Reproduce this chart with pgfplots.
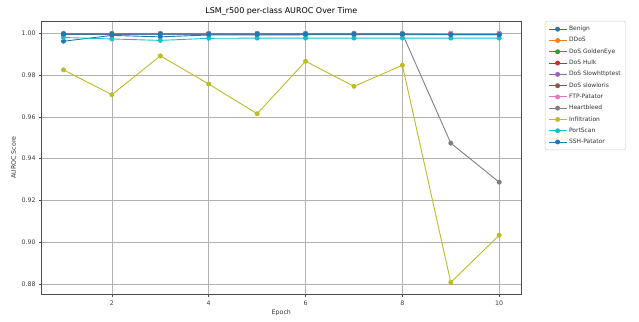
\documentclass[border=0pt]{standalone}
\usepackage{pgfplots}
\pgfplotsset{compat=1.18}
\usepackage{fontspec}
\setmainfont{DejaVu Sans}
\definecolor{tb}{HTML}{1F77B4}
\definecolor{to}{HTML}{FF7F0E}
\definecolor{tg}{HTML}{2CA02C}
\definecolor{tr}{HTML}{D62728}
\definecolor{tp}{HTML}{9467BD}
\definecolor{tbr}{HTML}{8C564B}
\definecolor{tpk}{HTML}{E377C2}
\definecolor{tgr}{HTML}{7F7F7F}
\definecolor{tol}{HTML}{BCBD22}
\definecolor{tc}{HTML}{17BECF}
\begin{document}
\begin{tikzpicture}
\useasboundingbox (0bp,0bp) rectangle (639bp,322bp);
\begin{axis}[
  at={(41.7bp,27.5bp)}, anchor=south west,
  width=479.3bp, height=273.5bp, scale only axis,
  xmin=0.55, xmax=10.45, ymin=0.8749, ymax=1.0059,
  xtick={2,4,6,8,10},
  ytick={0.88,0.90,0.92,0.94,0.96,0.98,1.00},
  xtick pos=left, ytick pos=left,
  yticklabel style={/pgf/number format/.cd, fixed, fixed zerofill, precision=2},
  /pgf/number format/assume math mode=true,
  ticklabel style={font=\fontsize{6.3}{7.5}\selectfont, text=black!75},
  tick style={black!70, line width=0.5pt},
  tick align=outside, major tick length=2.5bp,
  axis line style={black!70, line width=0.6pt},
  grid=major, major grid style={black!30, line width=0.5pt},
  xlabel={Epoch}, ylabel={AUROC Score},
  label style={font=\fontsize{6.3}{7.5}\selectfont, text=black!80},
  xlabel style={yshift=2bp},
  ylabel style={yshift=-1bp},
  title={LSM\_r500 per-class AUROC Over Time},
  title style={font=\fontsize{8}{9.5}\selectfont, yshift=-4bp},
  every axis plot/.append style={line width=0.9pt, mark=*, mark size=2pt},
  legend style={at={(1.05,1)}, anchor=north west, font=\fontsize{6}{7}\selectfont,
    draw=black!20, rounded corners=1.5pt, row sep=1.3bp, inner sep=3bp,
    text=black!80},
  legend cell align=left,
  legend image code/.code={\draw[#1, mark repeat=2, mark phase=2] plot coordinates {(0bp,0bp) (9bp,0bp) (18bp,0bp)};},
]
\addplot[tb] coordinates {(1,0.9962)(2,0.9990)(3,0.9983)(4,0.9992)(5,0.9992)(6,0.9993)(7,0.9993)(8,0.9993)(9,0.9993)(10,0.9993)};
\addlegendentry{Benign}
\addplot[to] coordinates {(1,1.0000)(2,1.0000)(3,1.0000)(4,1.0000)(5,1.0000)(6,1.0000)(7,1.0000)(8,1.0000)(9,1.0000)(10,1.0000)};
\addlegendentry{DDoS}
\addplot[tg] coordinates {(1,0.9999)(2,0.9999)(3,0.9999)(4,0.9999)(5,0.9999)(6,0.9999)(7,0.9999)(8,0.9999)(9,0.9999)(10,0.9999)};
\addlegendentry{DoS GoldenEye}
\addplot[tr] coordinates {(1,0.9994)(2,0.9996)(3,0.9997)(4,0.9997)(5,0.9997)(6,0.9997)(7,0.9997)(8,0.9997)(9,0.9998)(10,0.9998)};
\addlegendentry{DoS Hulk}
\addplot[tp] coordinates {(1,0.9997)(2,0.9998)(3,0.9998)(4,0.9998)(5,0.9998)(6,0.9998)(7,0.9998)(8,0.9998)(9,0.9998)(10,0.9998)};
\addlegendentry{DoS Slowhttptest}
\addplot[tbr] coordinates {(1,0.9996)(2,0.9997)(3,0.9997)(4,0.9997)(5,0.9997)(6,0.9997)(7,0.9997)(8,0.9997)(9,0.9997)(10,0.9997)};
\addlegendentry{DoS slowloris}
\addplot[tpk] coordinates {(1,1.0000)(2,1.0000)(3,1.0000)(4,1.0000)(5,1.0000)(6,1.0000)(7,1.0000)(8,1.0000)(9,1.0000)(10,1.0000)};
\addlegendentry{FTP-Patator}
\addplot[tgr] coordinates {(1,0.9998)(2,0.9998)(3,0.9998)(4,0.9998)(5,0.9998)(6,0.9998)(7,0.9998)(8,0.9998)(9,0.9474)(10,0.9287)};
\addlegendentry{Heartbleed}
\addplot[tol] coordinates {(1,0.9825)(2,0.9706)(3,0.9892)(4,0.9757)(5,0.9615)(6,0.9866)(7,0.9746)(8,0.9847)(9,0.8807)(10,0.9033)};
\addlegendentry{Infiltration}
\addplot[tc] coordinates {(1,0.9980)(2,0.9973)(3,0.9966)(4,0.9976)(5,0.9977)(6,0.9977)(7,0.9977)(8,0.9977)(9,0.9977)(10,0.9977)};
\addlegendentry{PortScan}
\addplot[tb] coordinates {(1,0.9996)(2,0.9996)(3,0.9996)(4,0.9996)(5,0.9996)(6,0.9996)(7,0.9996)(8,0.9996)(9,0.9994)(10,0.9994)};
\addlegendentry{SSH-Patator}
\end{axis}
\end{tikzpicture}
\end{document}
